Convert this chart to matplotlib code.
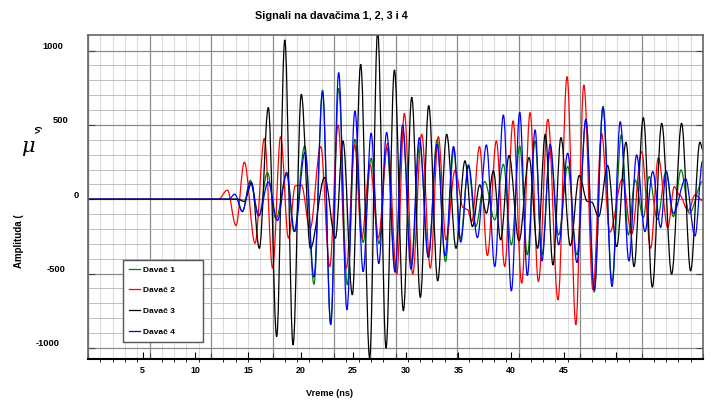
import matplotlib.pyplot as plt
from matplotlib.path import Path
from matplotlib.patches import PathPatch
from matplotlib.lines import Line2D
from matplotlib.transforms import ScaledTranslation

plt.rcParams['font.family'] = ['Liberation Sans', 'DejaVu Sans']
plt.rcParams['font.weight'] = 'bold'
plt.rcParams['axes.unicode_minus'] = False

# peaks and troughs (time in ns, amplitude in uV)
t1 = [0, 12.1, 12.55, 13.2, 13.9, 14.58, 15.28, 16.15, 16.75, 17.62, 18.37, 19.07, 19.73,
      20.38, 21.08, 21.7, 22.37, 23.02, 23.66, 24.3, 24.96, 25.6, 26.3, 26.97, 27.67, 28.38,
      29.06, 29.75, 30.28, 30.93, 31.52, 32.25, 33.07, 33.77, 34.42, 35.1, 35.72, 36.35,
      36.9, 37.58, 38.26, 39.0, 39.75, 40.48, 41.16, 41.87, 42.6, 43.36, 43.93, 44.47,
      45.15, 45.63, 46.29, 46.99, 47.59, 48.21, 48.89, 49.97]
a1 = [0, 0, -83, 126, -112, 179, -132, 164, -217, 358, -572, 735, -835,
      746, -576, 403, -290, 275, -298, 350, -464, 455, -440, 380, -385, 400,
      -420, 340, -267, 220, -184, 119, -139, 235, -307, 359, -374, 392,
      -374, 320, -240, 220, -374, 538, -625, 625, -554, 433, -240, 130,
      -123, 152, -135, 186, -117, 197, -94, 119]

t2 = [0, 10.6, 11.33, 12.03, 12.71, 13.58, 14.34, 15.01, 15.66, 16.3, 16.85, 17.35, 18.05,
      18.92, 19.65, 20.33, 21.0, 21.68, 22.25, 22.93, 23.6, 24.37, 25.1, 25.72, 26.4, 27.13,
      27.83, 28.48, 29.11, 29.84, 30.5, 30.85, 31.2, 31.83, 32.47, 33.2, 33.88, 34.56,
      35.26, 35.94, 36.62, 37.39, 38.21, 38.95, 39.66, 40.31, 41.06, 41.75, 42.42, 43.45,
      44.2, 45.01, 45.74, 46.37, 47.13, 47.67, 48.07, 48.81, 49.35, 49.97]
a2 = [0, 0, 61, -177, 249, -296, 410, -464, 421, -262, 90, 95, -200,
      354, -453, 500, -464, 365, -262, 231, -258, 377, -504, 578, -504, 437,
      -464, 421, -273, 195, -55, -70, -150, 354, -379, 392, -453, 527,
      -565, 583, -554, 538, -677, 825, -845, 769, -610, 444, -222, 135,
      -235, 320, -330, 280, -190, 85, 30, -78, 29, -9]

t3 = [0, 12.2, 12.7, 13.31, 13.93, 14.66, 15.34, 16.0, 16.67, 17.34, 18.08, 19.24, 20.11,
      20.73, 21.49, 22.17, 22.9, 23.55, 24.23, 24.91, 25.64, 26.32, 27.02, 27.7, 28.43,
      29.16, 29.92, 30.65, 31.25, 31.85, 32.39, 32.96, 33.55, 34.23, 35.04, 35.86, 36.55,
      37.18, 37.8, 38.45, 39.21, 39.94, 40.6, 40.95, 41.51, 42.25, 42.98, 43.74, 44.39,
      45.15, 45.88, 46.64, 47.45, 48.26, 48.99, 49.75, 50.0]
a3 = [0, 0, -15, 108, -330, 617, -924, 1072, -980, 706, -330, 146, -262,
      392, -643, 908, -1070, 1130, -1002, 870, -751, 686, -661, 630, -549,
      437, -330, 258, -184, 96, -94, 190, -273, 294, -280, 280, -330,
      437, -442, 415, -312, 159, -15, -20, -117, 226, -318, 383, -453,
      549, -592, 511, -504, 511, -482, 383, 330]

t4 = [0, 11.45, 11.93, 12.55, 13.2, 13.88, 14.66, 15.4, 16.15, 16.8, 17.64, 18.37, 19.07,
      19.73, 20.38, 21.05, 21.7, 22.37, 23.02, 23.64, 24.28, 24.96, 25.58, 26.26, 26.94,
      27.67, 28.38, 29.03, 29.72, 30.3, 30.93, 31.66, 32.39, 33.07, 33.77, 34.42, 35.1,
      35.72, 36.35, 36.9, 37.58, 38.26, 39.0, 39.75, 40.48, 41.16, 41.87, 42.6, 43.27,
      43.98, 44.6, 45.28, 45.91, 46.56, 47.0, 47.59, 48.59, 49.35, 49.97]
a4 = [0, 0, 34, -83, 113, -111, 115, -143, 180, -217, 316, -524, 724,
      -845, 852, -744, 594, -487, 444, -433, 450, -491, 500, -471, 415,
      -392, 370, -381, 355, -289, 231, -258, 365, -453, 567, -617, 585,
      -513, 466, -415, 370, -307, 309, -426, 538, -610, 617, -587, 522,
      -415, 298, -217, 186, -190, 190, -94, 137, -247, 258]

labels = ['Davač 1', 'Davač 2', 'Davač 3', 'Davač 4']
colors = ['#008000', '#ff0000', '#000000', '#0000ff']
x_tick_labels = ['5', '10', '15', '20', '25', '30', '35', '40', '45', '']


def wave(t, a):
    # smooth half-wave between each pair of extrema
    verts = [(t[0], a[0])]
    codes = [Path.MOVETO]
    for i in range(len(t) - 1):
        d = (t[i + 1] - t[i]) * 0.36
        verts += [(t[i] + d, a[i]), (t[i + 1] - d, a[i + 1]), (t[i + 1], a[i + 1])]
        codes += [Path.CURVE4] * 3
    return Path(verts, codes)


fig = plt.figure(figsize=(7.12, 4), dpi=100)
ax = fig.add_axes([88 / 712, 41 / 400, 615 / 712, 324 / 400])

for t, a, c in zip([t1, t2, t3, t4], [a1, a2, a3, a4], colors):
    ax.add_patch(PathPatch(wave(t, a), fill=False, edgecolor=c, lw=0.9))

ax.set_xlim(0, 50)
ax.set_ylim(-1075, 1105)
ax.set_xticks(range(0, 51, 5))
ax.set_xticks(range(0, 51), minor=True)
ax.set_yticks([-1000, -500, 0, 500, 1000])
ax.set_yticks(range(-1000, 1001, 100), minor=True)
ax.set_axisbelow(True)
ax.grid(which='major', color='#8a8a8a', lw=0.9)
ax.grid(which='minor', axis='x', color='#dddddd', lw=0.8)
ax.grid(which='minor', axis='y', color='#b4b4b4', lw=0.6)

ax.tick_params(axis='x', which='major', bottom=False, top=True, labelbottom=False,
               direction='in', length=4, color='#444444')
ax.tick_params(axis='x', which='minor', bottom=False, top=False)
ax.tick_params(axis='y', which='major', left=True, right=True, direction='in',
               length=5, pad=6.5, labelsize=6.7, color='#444444')
ax.tick_params(axis='y', which='minor', length=0)

# y labels in the original sit a bit above their lines and are not aligned
shifts = [-19, -13, 0, -11, -16]
for lab, dx in zip(ax.get_yticklabels(), shifts):
    lab.set_transform(lab.get_transform() +
                      ScaledTranslation(dx / 100, 5 / 100, fig.dpi_scale_trans))

for side in ['left', 'top', 'right']:
    ax.spines[side].set_color('#666666')
    ax.spines[side].set_linewidth(1.2)
ax.spines['bottom'].set_color('black')
ax.spines['bottom'].set_linewidth(1.5)

# the time labels underneath use their own scale
ax2 = ax.twiny()
ax2.set_xlim(-0.2, 58.26)
ax2.set_xticks(range(5, 51, 5))
ax2.set_xticklabels(x_tick_labels)
ax2.xaxis.set_ticks_position('bottom')
ax2.tick_params(axis='x', direction='in', length=5, pad=5, labelsize=6.4, color='black')
for s in ax2.spines.values():
    s.set_visible(False)

handles = [Line2D([], [], color=c, lw=0.9) for c in colors]
ax.legend(handles, labels, loc='lower left', bbox_to_anchor=(0.057, 0.052, 0.13, 0.2),
          mode='expand', fontsize=6, handlelength=1.3, handletextpad=0.3,
          labelspacing=1.55, borderpad=0.75, borderaxespad=0, fancybox=False,
          edgecolor='#555555', framealpha=1)

fig.text(331 / 712, 1 - 16 / 400, 'Signali na davačima 1, 2, 3 i 4', ha='center',
         va='center', fontsize=7.8)
fig.text(330 / 712, 1 - 393 / 400, 'Vreme (ns)', ha='center', va='center', fontsize=6.6)
fig.text(19.5 / 712, 1 - 241 / 400, 'Amplituda (', rotation=90, ha='center',
         va='center', fontsize=7)
fig.text(28 / 712, 1 - 147 / 400, 'μ', ha='center', va='center', fontsize=15,
         style='italic', weight='normal', family=['DejaVu Serif'])
fig.text(39 / 712, 1 - 129 / 400, 'V)', rotation=90, ha='center', va='center', fontsize=6)

fig.savefig('out.png', dpi=100)
